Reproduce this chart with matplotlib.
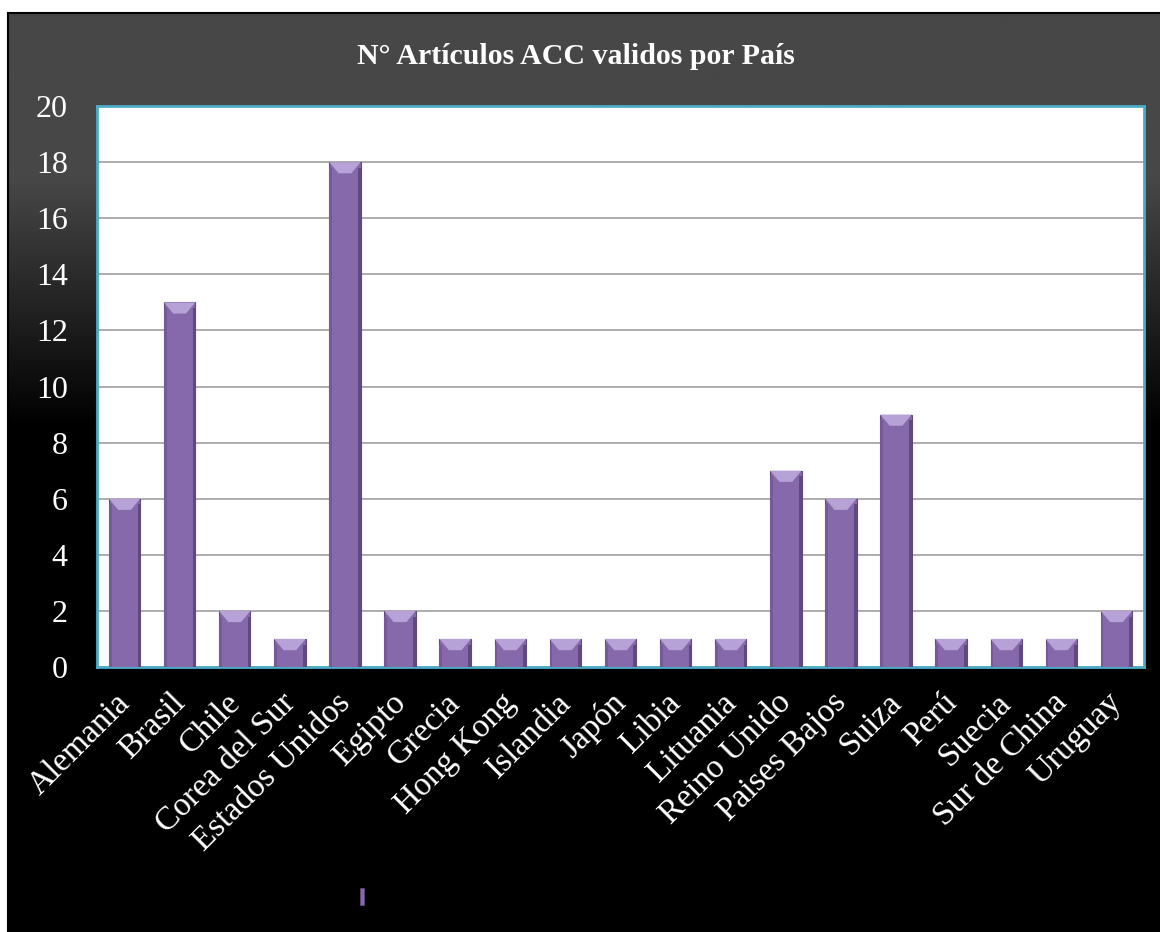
import numpy as np
import matplotlib.pyplot as plt
import matplotlib.transforms as mtransforms
from matplotlib.patches import Polygon, Rectangle

# data
paises = ["Alemania", "Brasil", "Chile", "Corea del Sur", "Estados Unidos", "Egipto",
          "Grecia", "Hong Kong", "Islandia", "Japón", "Libia", "Lituania",
          "Reino Unido", "Paises Bajos", "Suiza", "Perú", "Suecia", "Sur de China", "Uruguay"]
articulos = [6, 13, 2, 1, 18, 2, 1, 1, 1, 1, 1, 1, 7, 6, 9, 1, 1, 1, 2]
titulo = "N° Artículos ACC validos por País"

W, H = 1160, 932
plt.rcParams['font.family'] = ['Liberation Serif', 'DejaVu Serif']

fig = plt.figure(figsize=(W / 100, H / 100), dpi=100)
fig.patch.set_facecolor('white')

# dark gradient frame
bg = fig.add_axes([8 / W, 0, 1 - 8 / W, (H - 13) / H])
t = np.linspace(0, 1, 400)
g = np.clip((0.45 - t) / (0.45 - 0.18), 0, 1) * 0x47 / 255
img = np.repeat(g[:, None], 3, axis=1)[:, None, :]
bg.imshow(img, aspect='auto', extent=[0, 1, 0, 1], interpolation='bilinear')
bg.set_xlim(0, 1)
bg.set_ylim(0, 1)
bg.set_xticks([])
bg.set_yticks([])
for s in bg.spines.values():
    s.set_color('black')
    s.set_linewidth(1.5)
bg.spines['right'].set_visible(False)
bg.spines['bottom'].set_visible(False)

# plot area
ax = fig.add_axes([97 / W, 1 - 667 / H, (1144 - 97) / W, (667 - 106) / H])
ax.set_facecolor('white')
x = np.arange(len(paises))
bars = ax.bar(x, articulos, width=0.57, color='#8669AA', edgecolor='#5E4A7C',
              linewidth=0.8, zorder=3)

# bevel look on top of each bar
for b in bars:
    x0 = b.get_x()
    x1 = x0 + b.get_width()
    top = b.get_height()
    bx = 0.17
    by = 0.40
    ax.add_patch(Polygon([[x0, top], [x1, top], [x1 - bx, top - by], [x0 + bx, top - by]],
                         closed=True, facecolor='#B6A2D6', edgecolor='none', zorder=4))
    ax.add_patch(Rectangle((x0, 0), 0.05, top - by * 0.5, facecolor='#75599A', edgecolor='none', zorder=4))
    ax.add_patch(Rectangle((x1 - 0.05, 0), 0.05, top - by * 0.5, facecolor='#5F4A80', edgecolor='none', zorder=4))

ax.set_xlim(-0.5, len(paises) - 0.5)
ax.set_ylim(0, 20)
ax.set_yticks(np.arange(0, 21, 2))
ax.yaxis.grid(True, color='#A0A0A0', linewidth=1.2, zorder=1)
ax.set_axisbelow(True)
ax.tick_params(axis='both', length=0, colors='white')
ax.tick_params(axis='y', pad=21, labelsize=23)
ax.set_xticks(x)
ax.set_xticklabels(paises, rotation=45, ha='right', rotation_mode='anchor', va='top', fontsize=24)
ax.tick_params(axis='x', pad=6)
shift = mtransforms.ScaledTranslation(-10 / 100, -12 / 100, fig.dpi_scale_trans)
for lab in ax.get_xticklabels():
    lab.set_transform(lab.get_transform() + shift)
for s in ax.spines.values():
    s.set_color('#4BACC6')
    s.set_linewidth(2)

fig.text(576 / W, 1 - 57 / H, titulo, color='white', fontsize=21.5, fontweight='bold',
         ha='center', va='center')

# empty legend entry
fig.patches.append(Rectangle((360 / W, 1 - 905 / H), 4 / W, 17 / H, transform=fig.transFigure,
                             facecolor='#8669AA', edgecolor='#5E4A7C', linewidth=0.5))

fig.savefig('out.png', dpi=100)
